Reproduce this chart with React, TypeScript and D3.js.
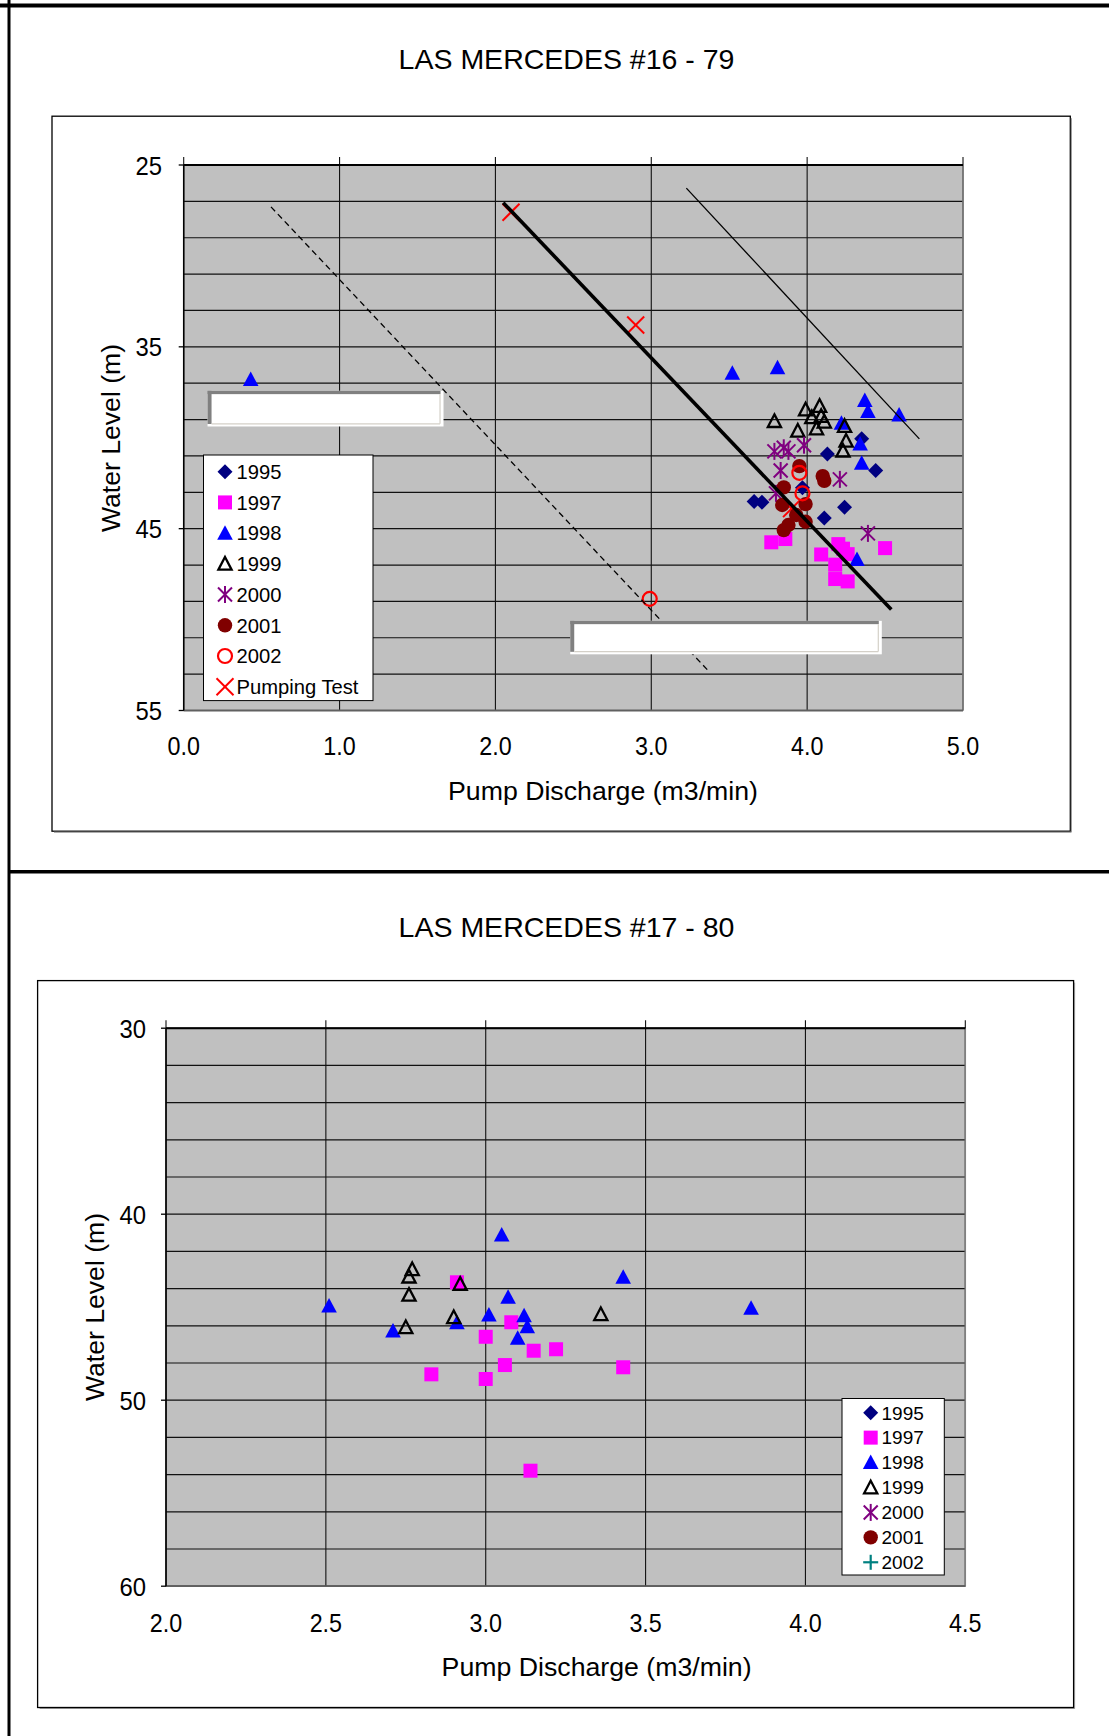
import React from 'react';
import * as d3 from 'd3';

type Pt = [number, number];

// ---------- LAS MERCEDES #16 - 79 (top chart) ----------
const top1995: Pt[] = [[3.66, 43.5], [3.71, 43.55], [3.97, 42.75], [4.13, 40.9], [4.35, 40.05], [4.44, 41.8], [4.24, 43.82], [4.11, 44.42]];
const top1997: Pt[] = [[3.77, 45.75], [3.86, 45.57], [4.09, 46.42], [4.2, 45.85], [4.23, 46.1], [4.26, 46.4], [4.5, 46.07], [4.18, 46.98], [4.18, 47.77], [4.26, 47.9]];
const top1998: Pt[] = [[0.43, 36.8], [3.52, 36.45], [3.81, 36.15], [4.37, 37.95], [4.39, 38.55], [4.59, 38.75], [4.22, 39.2], [4.34, 40.35], [4.35, 41.4], [4.32, 46.7]];
const top1999: Pt[] = [[3.79, 39.09], [3.99, 38.45], [4.08, 38.26], [4.03, 38.88], [4.09, 38.81], [4.11, 39.12], [4.06, 39.49], [3.94, 39.62], [4.24, 39.36], [4.25, 40.17], [4.23, 40.72]];
const top2000: Pt[] = [[3.79, 40.75], [3.85, 40.55], [3.88, 40.75], [3.98, 40.41], [3.83, 41.8], [3.8, 43.06], [4.21, 42.29], [4.39, 45.26]];
const top2001: Pt[] = [[3.95, 41.56], [4.1, 42.11], [4.11, 42.37], [3.85, 42.73], [3.84, 43.7], [3.93, 44.25], [3.99, 43.65], [3.99, 44.62], [3.88, 44.8], [3.85, 45.08]];
const top2002: Pt[] = [[3.95, 41.93], [3.97, 43.06], [2.99, 48.86]];
const topPumpingTest: Pt[] = [[2.1, 27.6], [2.9, 33.8], [3.9, 43.9]];
// trend lines drawn on the top chart: [start, end]
const topThickLine: Pt[] = [[2.05, 27.07], [4.54, 49.45]];
const topThinLine: Pt[] = [[3.225, 26.27], [4.72, 40.06]];
const topDashedLine: Pt[] = [[0.56, 27.3], [3.36, 52.76]];
// empty annotation boxes, in data units: [x0, y0, x1, y1]
const topEmptyBoxes: [number, number, number, number][] = [[0.153, 37.42, 1.667, 39.38], [2.48, 50.07, 4.479, 51.91]];

const topXTicks = [0, 1, 2, 3, 4, 5];
const topYTicks = [25, 35, 45, 55];
const topLegend = ['1995', '1997', '1998', '1999', '2000', '2001', '2002', 'Pumping Test'];

// ---------- LAS MERCEDES #17 - 80 (bottom chart) ----------
const bot1997: Pt[] = [[2.91, 43.66], [3.08, 45.81], [3.0, 46.59], [3.15, 47.34], [3.22, 47.26], [3.06, 48.11], [2.83, 48.61], [3.0, 48.86], [3.43, 48.23], [3.14, 53.79]];
const bot1998: Pt[] = [[3.05, 41.12], [3.43, 43.39], [2.51, 44.94], [3.83, 45.06], [3.07, 44.47], [2.71, 46.28], [2.91, 45.83], [3.01, 45.42], [3.12, 45.46], [3.13, 46.05], [3.1, 46.67]];
const bot1999: Pt[] = [[2.77, 42.96], [2.76, 43.36], [2.76, 44.34], [2.92, 43.75], [2.9, 45.54], [2.75, 46.08], [3.36, 45.38]];

const botXTicks = [2.0, 2.5, 3.0, 3.5, 4.0, 4.5];
const botYTicks = [30, 40, 50, 60];
const botLegend = ['1995', '1997', '1998', '1999', '2000', '2001', '2002'];

const FONT = "'Liberation Sans', Arial, Helvetica, sans-serif";

type Kind = 'diamond' | 'square' | 'triangle' | 'triangleOpen' | 'asterisk' | 'circle' | 'circleOpen' | 'x' | 'plus';

function Marker({ kind, x, y }: { kind: Kind; x: number; y: number }) {
  switch (kind) {
    case 'diamond':
      return <path d={`M${x},${y - 7.5}L${x + 7.5},${y}L${x},${y + 7.5}L${x - 7.5},${y}Z`} fill="#000080" />;
    case 'square':
      return <rect x={x - 7} y={y - 7} width={14} height={14} fill="#FF00FF" />;
    case 'triangle':
      return <path d={`M${x},${y - 8}L${x + 7.8},${y + 6.5}L${x - 7.8},${y + 6.5}Z`} fill="#0000FF" />;
    case 'triangleOpen':
      return <path d={`M${x},${y - 6.8}L${x + 6.6},${y + 5.8}L${x - 6.6},${y + 5.8}Z`} fill="none" stroke="#000" strokeWidth={2.3} />;
    case 'asterisk':
      return (
        <g stroke="#800080" strokeWidth={2}>
          <line x1={x - 7} y1={y - 7} x2={x + 7} y2={y + 7} />
          <line x1={x - 7} y1={y + 7} x2={x + 7} y2={y - 7} />
          <line x1={x} y1={y - 8.5} x2={x} y2={y + 8.5} />
        </g>
      );
    case 'circle':
      return <circle cx={x} cy={y} r={7.2} fill="#800000" />;
    case 'circleOpen':
      return <circle cx={x} cy={y} r={7} fill="none" stroke="#FF0000" strokeWidth={2.2} />;
    case 'x':
      return (
        <g stroke="#FF0000" strokeWidth={2}>
          <line x1={x - 8.5} y1={y - 8.5} x2={x + 8.5} y2={y + 8.5} />
          <line x1={x - 8.5} y1={y + 8.5} x2={x + 8.5} y2={y - 8.5} />
        </g>
      );
    case 'plus':
      return (
        <g stroke="#008080" strokeWidth={2.2}>
          <line x1={x - 7.5} y1={y} x2={x + 7.5} y2={y} />
          <line x1={x} y1={y - 7.5} x2={x} y2={y + 7.5} />
        </g>
      );
  }
  return null;
}

function Txt(props: { x: number; y: number; size: number; anchor?: string; sx?: number; rotate?: number; len?: number; children: React.ReactNode }) {
  const { x, y, size, anchor = 'middle', sx = 1, rotate = 0, len, children } = props;
  return (
    <text
      transform={`translate(${x},${y}) rotate(${rotate}) scale(${sx},1)`}
      fontSize={size}
      fontFamily={FONT}
      textAnchor={anchor as any}
      dy="0.36em"
      fill="#000"
      textLength={len}
      lengthAdjust={len ? 'spacingAndGlyphs' : undefined}
    >
      {children}
    </text>
  );
}

type Series = { kind: Kind; pts: Pt[] };

type ChartProps = {
  title: string;
  titleY: number;
  box: [number, number, number, number];
  xRange: [number, number];
  yRange: [number, number];
  xDomain: [number, number];
  yDomain: [number, number];
  xTicks: number[];
  yTicks: number[];
  xTickY: number;
  yTickX: number;
  xTitle: Pt;
  yTitle: Pt;
  series: Series[];
  legend: { box: [number, number, number, number]; y0: number; dy: number; symX: number; textX: number; size: number; labels: string[]; kinds: Kind[] };
  lines?: { pts: Pt[]; width: number; dash?: string }[];
  emptyBoxes?: [number, number, number, number][];
};

function EmptyBox({ x0, y0, x1, y1 }: { x0: number; y0: number; x1: number; y1: number }) {
  return (
    <g>
      <rect x={x0} y={y0} width={x1 - x0} height={y1 - y0} fill="#fff" />
      <rect x={x0} y={y0} width={x1 - x0 - 3} height={3.3} fill="#808080" />
      <rect x={x0} y={y0} width={4} height={y1 - y0 - 2.5} fill="#808080" />
      <line x1={x0 + 4} y1={y1 - 2.7} x2={x1 - 3.5} y2={y1 - 2.7} stroke="#d4d0c8" strokeWidth={1.2} />
      <line x1={x1 - 3.5} y1={y0 + 3.3} x2={x1 - 3.5} y2={y1 - 2.7} stroke="#d4d0c8" strokeWidth={1.2} />
    </g>
  );
}

function Chart(p: ChartProps) {
  const x = d3.scaleLinear().domain(p.xDomain).range(p.xRange);
  const y = d3.scaleLinear().domain(p.yDomain).range(p.yRange);
  const [px0, px1] = p.xRange;
  const [py0, py1] = p.yRange;
  const minorY = d3.range(p.yDomain[0], p.yDomain[1] + 0.001, 2);
  const fmtX = d3.format('.1f');
  const [bx0, by0, bx1, by1] = p.box;
  const lg = p.legend;
  return (
    <g>
      <Txt x={(0 + 1109) / 2 + 12} y={p.titleY} size={28.5}>{p.title}</Txt>
      <rect x={bx0} y={by0} width={bx1 - bx0} height={by1 - by0} fill="#fff" stroke="#000" strokeWidth={1.3} />
      <line x1={bx1 + 1} y1={by0 + 2} x2={bx1 + 1} y2={by1 + 1} stroke="#888" strokeWidth={1} />
      <line x1={bx0 + 2} y1={by1 + 1} x2={bx1 + 1} y2={by1 + 1} stroke="#888" strokeWidth={1} />
      {/* plot area */}
      <rect x={px0} y={py0} width={px1 - px0} height={py1 - py0} fill="#c0c0c0" />
      {minorY.map((v) => (
        <line key={'h' + v} x1={px0} x2={px1} y1={y(v)} y2={y(v)} stroke="#111" strokeWidth={1.2} />
      ))}
      {p.xTicks.map((v) => (
        <line key={'v' + v} x1={x(v)} x2={x(v)} y1={py0 - 8} y2={py1} stroke="#111" strokeWidth={1.1} />
      ))}
      <line x1={px1} x2={px1} y1={py0} y2={py1} stroke="#808080" strokeWidth={1.5} />
      <line x1={px0} x2={px1} y1={py1} y2={py1} stroke="#606060" strokeWidth={1.8} />
      <line x1={px0} x2={px1} y1={py0} y2={py0} stroke="#000" strokeWidth={2} />
      <line x1={px0} x2={px0} y1={py0} y2={py1} stroke="#000" strokeWidth={1.5} />
      {p.yTicks.map((v) => (
        <line key={'yt' + v} x1={px0 - 5} x2={px0} y1={y(v)} y2={y(v)} stroke="#000" strokeWidth={1.3} />
      ))}
      {/* tick labels */}
      {p.yTicks.map((v) => (
        <Txt key={'yl' + v} x={p.yTickX} y={y(v)} size={26.5} anchor="end" sx={0.9}>{String(v)}</Txt>
      ))}
      {p.xTicks.map((v) => (
        <Txt key={'xl' + v} x={x(v)} y={p.xTickY} size={26.5} sx={0.88}>{fmtX(v)}</Txt>
      ))}
      <Txt x={p.xTitle[0]} y={p.xTitle[1]} size={26.5} len={310}>Pump Discharge (m3/min)</Txt>
      <Txt x={p.yTitle[0]} y={p.yTitle[1]} size={26.5} rotate={-90} len={188}>Water Level (m)</Txt>
      {/* data */}
      {p.series.map((s, i) => (
        <g key={'s' + i}>
          {s.pts.map((d, j) => (
            <Marker key={j} kind={s.kind} x={x(d[0])} y={y(d[1])} />
          ))}
        </g>
      ))}
      {(p.lines || []).map((l, i) => (
        <line key={'l' + i} x1={x(l.pts[0][0])} y1={y(l.pts[0][1])} x2={x(l.pts[1][0])} y2={y(l.pts[1][1])} stroke="#000" strokeWidth={l.width} strokeDasharray={l.dash} />
      ))}
      {(p.emptyBoxes || []).map((b, i) => (
        <EmptyBox key={'b' + i} x0={x(b[0])} y0={y(b[1])} x1={x(b[2])} y1={y(b[3])} />
      ))}
      {/* legend */}
      <rect x={lg.box[0]} y={lg.box[1]} width={lg.box[2] - lg.box[0]} height={lg.box[3] - lg.box[1]} fill="#fff" stroke="#000" strokeWidth={1} />
      {lg.labels.map((t, i) => (
        <g key={'lg' + i}>
          <Marker kind={lg.kinds[i]} x={lg.symX} y={lg.y0 + i * lg.dy} />
          <Txt x={lg.textX} y={lg.y0 + i * lg.dy} size={lg.size} anchor="start">{t}</Txt>
        </g>
      ))}
    </g>
  );
}

export default function App() {
  const topSeries: Series[] = [
    { kind: 'x', pts: topPumpingTest },
    { kind: 'diamond', pts: top1995 },
    { kind: 'square', pts: top1997 },
    { kind: 'triangle', pts: top1998 },
    { kind: 'triangleOpen', pts: top1999 },
    { kind: 'asterisk', pts: top2000 },
    { kind: 'circle', pts: top2001 },
    { kind: 'circleOpen', pts: top2002 },
  ];
  const botSeries: Series[] = [
    { kind: 'square', pts: bot1997 },
    { kind: 'triangle', pts: bot1998 },
    { kind: 'triangleOpen', pts: bot1999 },
  ];
  return (
    <svg width={1109} height={1736} style={{ position: 'absolute', left: 0, top: 0, background: '#fff' }}>
      <rect x={0} y={0} width={1109} height={1736} fill="#fff" />
      <Chart
        title="LAS MERCEDES #16 - 79"
        titleY={58.7}
        box={[52, 116.2, 1070.3, 831.2]}
        xRange={[183.7, 963]}
        yRange={[165, 710.5]}
        xDomain={[0, 5]}
        yDomain={[25, 55]}
        xTicks={topXTicks}
        yTicks={topYTicks}
        xTickY={745}
        yTickX={162}
        xTitle={[603, 790]}
        yTitle={[110.5, 438]}
        series={topSeries}
        lines={[
          { pts: topDashedLine, width: 1.3, dash: '6,4' },
          { pts: topThickLine, width: 3.6 },
          { pts: topThinLine, width: 1.3 },
        ]}
        emptyBoxes={topEmptyBoxes}
        legend={{
          box: [203.5, 455, 373, 700.6],
          y0: 471.7,
          dy: 30.72,
          symX: 225,
          textX: 236.5,
          size: 20.2,
          labels: topLegend,
          kinds: ['diamond', 'square', 'triangle', 'triangleOpen', 'asterisk', 'circle', 'circleOpen', 'x'],
        }}
      />
      <Chart
        title="LAS MERCEDES #17 - 80"
        titleY={926.4}
        box={[37.6, 980.6, 1073.6, 1707.5]}
        xRange={[166, 965.3]}
        yRange={[1028.2, 1586.2]}
        xDomain={[2, 4.5]}
        yDomain={[30, 60]}
        xTicks={botXTicks}
        yTicks={botYTicks}
        xTickY={1622.6}
        yTickX={146}
        xTitle={[596.6, 1666.8]}
        yTitle={[94, 1307]}
        series={botSeries}
        legend={{
          box: [842, 1398.5, 944.3, 1575],
          y0: 1412.7,
          dy: 24.93,
          symX: 870.7,
          textX: 881.5,
          size: 19,
          labels: botLegend,
          kinds: ['diamond', 'square', 'triangle', 'triangleOpen', 'asterisk', 'circle', 'plus'],
        }}
      />
      {/* page frame */}
      <line x1={0} y1={5.5} x2={1109} y2={5.5} stroke="#000" strokeWidth={4} />
      <line x1={9} y1={0} x2={9} y2={1736} stroke="#000" strokeWidth={3} />
      <line x1={9} y1={871.7} x2={1109} y2={871.7} stroke="#000" strokeWidth={3.5} />
    </svg>
  );
}
